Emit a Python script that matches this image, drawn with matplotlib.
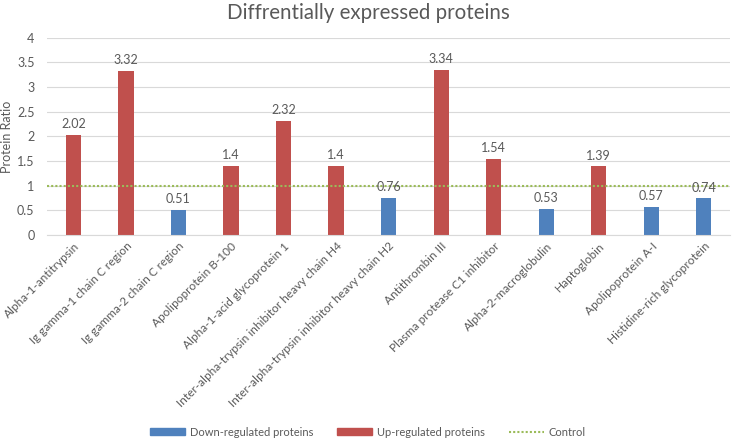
import matplotlib
matplotlib.use("Agg")
import matplotlib.pyplot as plt
from matplotlib.patches import Patch
from matplotlib.lines import Line2D

proteins = ["Alpha-1-antitrypsin", "Ig gamma-1 chain C region", "Ig gamma-2 chain C region",
            "Apolipoprotein B-100", "Alpha-1-acid glycoprotein 1",
            "Inter-alpha-trypsin inhibitor heavy chain H4",
            "Inter-alpha-trypsin inhibitor heavy chain H2", "Antithrombin III",
            "Plasma protease C1 inhibitor", "Alpha-2-macroglobulin", "Haptoglobin",
            "Apolipoprotein A-I", "Histidine-rich glycoprotein"]
ratios = [2.02, 3.32, 0.51, 1.4, 2.32, 1.4, 0.76, 3.34, 1.54, 0.53, 1.39, 0.57, 0.74]
control = 1.0

red = "#C0504D"
blue = "#4F81BD"
green = "#9BBB59"
grey = "#595959"

plt.rcParams['font.family'] = ['Lato', 'DejaVu Sans']

fig = plt.figure(figsize=(7.36, 4.45), dpi=100)
ax = fig.add_axes([0.064, 0.472, 0.928, 0.443])

x = range(len(proteins))
colors = [red if r > control else blue for r in ratios]
ax.bar(x, ratios, width=0.29, color=colors, zorder=2)
for i, r in enumerate(ratios):
    ax.text(i, r + 0.1, f"{r:g}", ha="center", va="bottom", fontsize=9, color=grey, zorder=4)
ax.axhline(control, color=green, linestyle=(0, (1, 1)), linewidth=1.5, zorder=3)

ax.set_xlim(-0.5, len(proteins) - 0.5)
ax.set_ylim(0, 4)
ax.set_yticks([0, 0.5, 1, 1.5, 2, 2.5, 3, 3.5, 4])
ax.set_yticklabels(["0", "0.5", "1", "1.5", "2", "2.5", "3", "3.5", "4"])
ax.grid(axis="y", color="#D9D9D9", linewidth=0.8, zorder=0)
for s in ["top", "right", "left"]:
    ax.spines[s].set_visible(False)
ax.spines["bottom"].set_color("#D9D9D9")
ax.tick_params(axis="both", length=0, labelsize=9, labelcolor=grey)
ax.tick_params(axis="y", pad=9)
ax.tick_params(axis="x", pad=4)
ax.set_xticks(list(x))
ax.set_xticklabels(proteins, rotation=45, ha="right", rotation_mode="anchor", fontsize=8.5)
ax.set_ylabel("Protein Ratio", fontsize=9, color=grey, labelpad=3)

fig.text(0.5, 0.97, "Diffrentially expressed proteins", ha="center", va="center",
         fontsize=14.8, color=grey)

handles = [Patch(color=blue), Patch(color=red),
           Line2D([0], [0], color=green, linestyle=(0, (1, 1)), linewidth=1.5)]
fig.legend(handles, ["Down-regulated proteins", "Up-regulated proteins", "Control"],
           loc="center", bbox_to_anchor=(0.5, 0.029), ncol=3, frameon=False,
           fontsize=8, labelcolor=grey, handlelength=3.1, handleheight=0.6,
           handletextpad=0.45, columnspacing=2.2)

fig.savefig("out.png", dpi=100)
